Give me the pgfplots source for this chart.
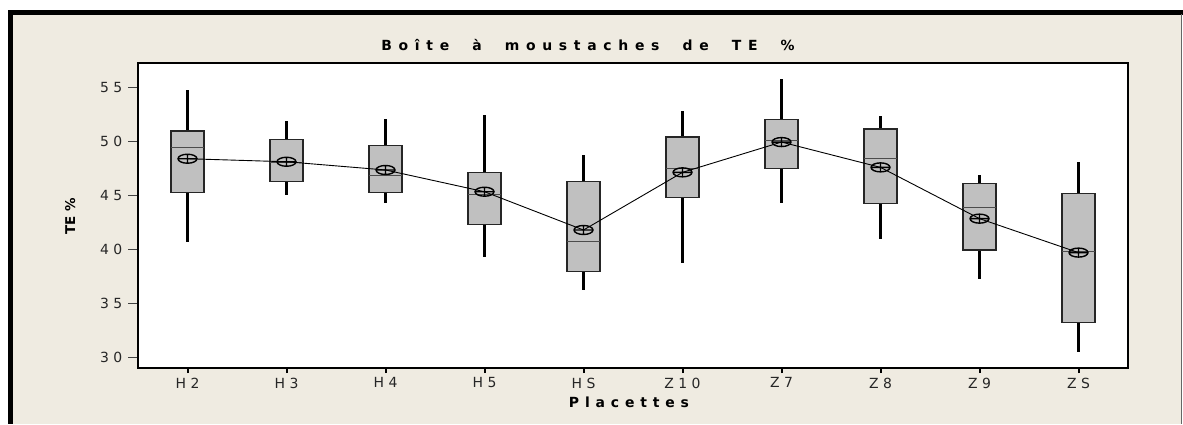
\documentclass[border=0pt]{standalone}
\usepackage{fontspec}
\setmainfont{DejaVu Sans}
\newfontfamily\titlefont[LetterSpace=48,WordSpace=2]{DejaVu Sans}
\newfontfamily\labfont[LetterSpace=42]{DejaVu Sans}
\usepackage{pgfplots}
\pgfplotsset{compat=1.18}
\usepgfplotslibrary{statistics}
\definecolor{beige}{HTML}{EFEBE1}
\definecolor{boxgray}{HTML}{C0C0C0}
\pgfdeclareplotmark{meanplus}{%
 \pgfpathellipse{\pgfpointorigin}{\pgfpoint{9.5bp}{0bp}}{\pgfpoint{0bp}{4.5bp}}%
 \pgfpathmoveto{\pgfpoint{-9.5bp}{0bp}}\pgfpathlineto{\pgfpoint{9.5bp}{0bp}}%
 \pgfpathmoveto{\pgfpoint{0bp}{-4.5bp}}\pgfpathlineto{\pgfpoint{0bp}{4.5bp}}%
 \pgfusepathqstroke}
\begin{document}
\begin{tikzpicture}[x=1bp,y=1bp]
\useasboundingbox (0,0) rectangle (1183,-424);
\fill[white] (0,0) rectangle (1183,-424);
\fill[beige] (8,-10) rectangle (1181,-424);
\fill[black] (8,-10) rectangle (1183,-14.5);
\fill[black] (8,-10) rectangle (13,-424);
\draw[black!60, line width=1bp] (1181,-14) -- (1181,-424);
\begin{axis}[
  at={(138bp,-368bp)}, anchor=south west,
  scale only axis, width=990bp, height=305bp,
  xmin=0.5, xmax=10.5, ymin=29.05, ymax=57.25,
  axis background/.style={fill=white},
  axis line style={black, line width=1.2bp},
  xtick={1,...,10},
  xticklabels={H 2,H 3,H 4,H 5,H S,Z 1 0,Z 7,Z 8,Z 9,Z S},
  ytick={30,35,...,55},
  yticklabels={3 0,3 5,4 0,4 5,5 0,5 5},
  tick align=outside,
  xtick pos=left, ytick pos=left,
  xtick style={black, line width=2bp, /pgfplots/major tick length=5bp},
  ytick style={black!75, line width=1bp, /pgfplots/major tick length=10bp},
  tick label style={font=\fontsize{14}{16}\selectfont, text=black!85},
  yticklabel style={xshift=-8bp},
  xticklabel style={yshift=-2bp},
  boxplot/draw direction=y,
  boxplot/box extend=0.33,
  boxplot/whisker extend=0,
  boxplot/every whisker/.style={black, line width=2.2bp},
  boxplot/every median/.style={draw=black!70, line width=0.9bp},
  boxplot/every box/.style={draw=black!85, line width=1.5bp, fill=boxgray},
]
\addplot[boxplot prepared={draw position=1, lower whisker=40.73, lower quartile=45.3, median=49.48, upper quartile=50.96, upper whisker=54.8}] coordinates {};
\addplot[boxplot prepared={draw position=2, lower whisker=45.02, lower quartile=46.28, median=48.03, upper quartile=50.16, upper whisker=51.86}] coordinates {};
\addplot[boxplot prepared={draw position=3, lower whisker=44.28, lower quartile=45.3, median=46.87, upper quartile=49.64, upper whisker=52.04}] coordinates {};
\addplot[boxplot prepared={draw position=4, lower whisker=39.34, lower quartile=42.34, median=45.11, upper quartile=47.14, upper whisker=52.44}] coordinates {};
\addplot[boxplot prepared={draw position=5, lower whisker=36.27, lower quartile=37.96, median=40.73, upper quartile=46.28, upper whisker=48.74}] coordinates {};
\addplot[boxplot prepared={draw position=6, lower whisker=38.73, lower quartile=44.83, median=47.48, upper quartile=50.43, upper whisker=52.84}] coordinates {};
\addplot[boxplot prepared={draw position=7, lower whisker=44.28, lower quartile=47.48, median=50.1, upper quartile=52.04, upper whisker=55.74}] coordinates {};
\addplot[boxplot prepared={draw position=8, lower whisker=40.95, lower quartile=44.28, median=48.44, upper quartile=51.15, upper whisker=52.35}] coordinates {};
\addplot[boxplot prepared={draw position=9, lower whisker=37.26, lower quartile=39.94, median=43.94, upper quartile=46.09, upper whisker=46.87}] coordinates {};
\addplot[boxplot prepared={draw position=10, lower whisker=30.51, lower quartile=33.28, median=39.81, upper quartile=45.17, upper whisker=48.07}] coordinates {};
\addplot[black, line width=0.9bp, mark=meanplus, mark options={black, line width=1.4bp}] coordinates {
(1,48.4) (2,48.12) (3,47.36) (4,45.35) (5,41.81) (6,47.14) (7,49.94) (8,47.6) (9,42.86) (10,39.72)};
\end{axis}
\node[anchor=base, inner sep=0] at (588,-50) {\fontsize{14}{16}\selectfont\titlefont\bfseries Boîte à moustaches de TE \%};
\node[anchor=base, inner sep=0] at (629,-407) {\fontsize{14}{16}\selectfont\labfont\bfseries Placettes};
\node[anchor=base, rotate=90, inner sep=0] at (75,-216) {\fontsize{13.5}{15}\selectfont\bfseries TE \%};
\end{tikzpicture}
\end{document}
